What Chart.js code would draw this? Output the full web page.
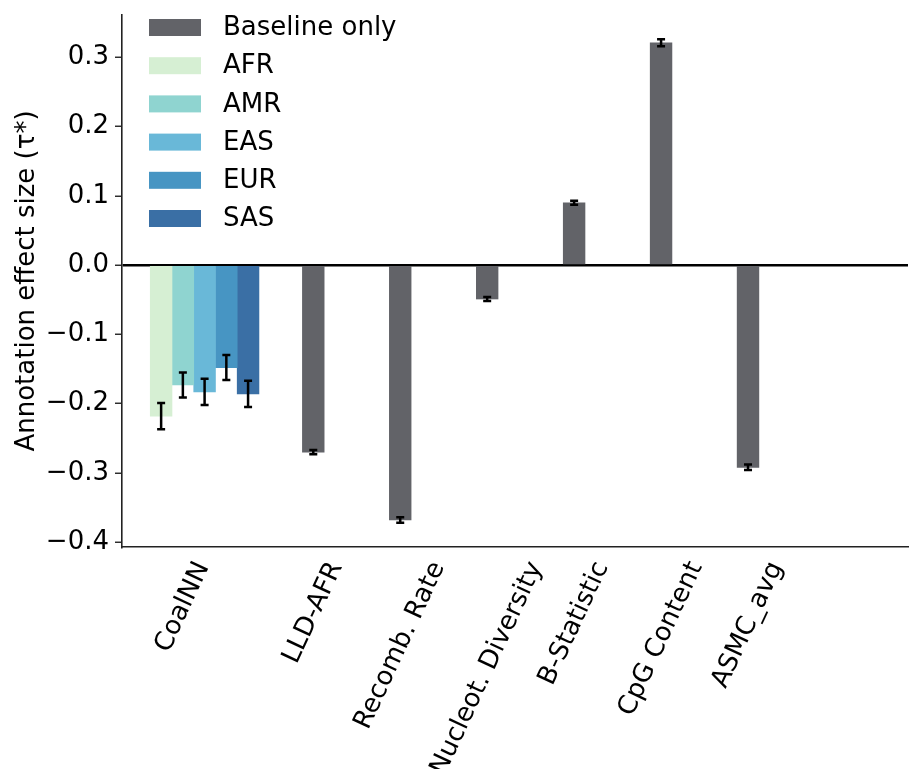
<!DOCTYPE html>
<html>
<head>
<meta charset="utf-8">
<script src="https://cdn.jsdelivr.net/npm/chart.js@4.4.1/dist/chart.umd.min.js"></script>
<style>
  html, body { margin: 0; padding: 0; background: #fff; }
  #wrap { width: 909px; height: 769px; }
</style>
</head>
<body>
<div id="wrap"><canvas id="chart" width="909" height="769"></canvas></div>
<script>
// annotation names and where they sit on the x axis (axis units)
const categories = ['CoalNN', 'LLD-AFR', 'Recomb. Rate', 'Nucleot. Diversity', 'B-Statistic', 'CpG Content', 'ASMC_avg'];
const categoryPositions = [0.5, 2, 3, 4, 5, 6, 7];

// CoalNN per ancestry
const ancestries = ['AFR', 'AMR', 'EAS', 'EUR', 'SAS'];
const ancestryPositions = [0.25, 0.5, 0.75, 1.0, 1.25];
const coalnnTau = [-0.218, -0.173, -0.183, -0.148, -0.186];
const coalnnErr = [0.019, 0.018, 0.019, 0.018, 0.019];

// baseline-only annotations
const baselinePositions = [2, 3, 4, 5, 6, 7];
const baselineTau = [-0.270, -0.368, -0.049, 0.090, 0.321, -0.292];
const baselineErr = [0.003, 0.004, 0.003, 0.003, 0.005, 0.004];

const yTicks = [-0.4, -0.3, -0.2, -0.1, 0.0, 0.1, 0.2, 0.3];

const BASE_COLOR = '#626368';
const ANCESTRY_COLORS = ['#d6efd3', '#8fd4d0', '#69b8d8', '#4795c3', '#3a6fa5'];
const FONT_SIZE = 26;
const LABEL_ANGLE = 65;

Chart.defaults.font.family = 'DejaVu Sans';
Chart.defaults.font.size = FONT_SIZE;
Chart.defaults.color = '#000';

const datasets = [{
  label: 'Baseline only',
  data: baselinePositions.map((x, i) => ({x: x, y: baselineTau[i]})),
  errors: baselineErr,
  backgroundColor: BASE_COLOR,
}];
ancestries.forEach((name, i) => {
  datasets.push({
    label: name,
    data: [{x: ancestryPositions[i], y: coalnnTau[i]}],
    errors: [coalnnErr[i]],
    backgroundColor: ANCESTRY_COLORS[i],
  });
});

const errorBars = {
  id: 'errorBars',
  afterDatasetsDraw(chart) {
    const ctx = chart.ctx;
    const yScale = chart.scales.y;
    ctx.save();
    ctx.strokeStyle = '#000';
    ctx.lineWidth = 2.5;
    chart.data.datasets.forEach((ds, di) => {
      const meta = chart.getDatasetMeta(di);
      meta.data.forEach((bar, i) => {
        const v = ds.data[i].y;
        const e = ds.errors[i];
        const y1 = yScale.getPixelForValue(v - e);
        const y2 = yScale.getPixelForValue(v + e);
        const cap = 4;
        ctx.beginPath();
        ctx.moveTo(bar.x, y1);
        ctx.lineTo(bar.x, y2);
        ctx.moveTo(bar.x - cap, y1);
        ctx.lineTo(bar.x + cap, y1);
        ctx.moveTo(bar.x - cap, y2);
        ctx.lineTo(bar.x + cap, y2);
        ctx.stroke();
      });
    });
    ctx.restore();
  }
};

// rotated x labels, centred on the tick like matplotlib's ha='center'
const centredLabels = {
  id: 'centredLabels',
  afterDraw(chart) {
    const ctx = chart.ctx;
    const xScale = chart.scales.x;
    const a = LABEL_ANGLE * Math.PI / 180;
    ctx.save();
    ctx.font = FONT_SIZE + 'px "DejaVu Sans"';
    ctx.fillStyle = '#000';
    ctx.textAlign = 'center';
    ctx.textBaseline = 'middle';
    xScale.ticks.forEach((t, i) => {
      const label = categories[i];
      const w = ctx.measureText(label).width;
      const h = FONT_SIZE;
      const boxH = w * Math.sin(a) + h * Math.cos(a);
      const cx = xScale.getPixelForValue(t.value);
      const cy = xScale.top + 11 + boxH / 2;
      ctx.save();
      ctx.translate(cx, cy);
      ctx.rotate(-a);
      ctx.fillText(label, 0, 0);
      ctx.restore();
    });
    ctx.restore();
  }
};

const boxLegend = {
  id: 'boxLegend',
  afterDraw(chart) {
    const ctx = chart.ctx;
    const area = chart.chartArea;
    const x0 = area.left + 27;
    const y0 = area.top + 12.5;
    ctx.save();
    ctx.font = FONT_SIZE + 'px "DejaVu Sans"';
    ctx.textBaseline = 'middle';
    chart.data.datasets.forEach((ds, i) => {
      const y = y0 + i * 38.2;
      ctx.fillStyle = ds.backgroundColor;
      ctx.fillRect(x0, y - 8.5, 52, 17);
      ctx.fillStyle = '#000';
      ctx.fillText(ds.label, x0 + 74, y + 1);
    });
    ctx.restore();
  }
};

new Chart(document.getElementById('chart'), {
  type: 'bar',
  data: {datasets: datasets},
  plugins: [errorBars, centredLabels, boxLegend],
  options: {
    responsive: false,
    animation: false,
    layout: {padding: {top: 15, right: 1, left: 0, bottom: 0}},
    datasets: {
      bar: {
        grouped: false,
        barPercentage: 1,
        categoryPercentage: 1,
      }
    },
    scales: {
      x: {
        type: 'linear',
        min: -0.2,
        max: 8.84,
        offset: false,
        afterBuildTicks: (scale) => {
          scale.ticks = categoryPositions.map((v) => ({value: v}));
        },
        afterFit: (scale) => {
          scale.height = 222;
          scale.paddingLeft = 0;
          scale.paddingRight = 0;
        },
        ticks: {display: false},
        grid: {display: false, drawTicks: false},
        border: {display: true, color: '#222', width: 1.6},
      },
      y: {
        min: -0.407,
        max: 0.361,
        afterBuildTicks: (scale) => {
          scale.ticks = yTicks.map((v) => ({value: v}));
        },
        afterFit: (scale) => {
          scale.width = 122;
          scale.paddingTop = 0;
          scale.paddingBottom = 0;
        },
        ticks: {
          padding: 6,
          callback: (value) => (value < 0 ? '\u2212' : '') + Math.abs(value).toFixed(1),
        },
        grid: {
          drawOnChartArea: true,
          tickLength: 7,
          tickWidth: 1.4,
          tickColor: '#222',
          lineWidth: 2.5,
          color: (c) => (c.tick && Math.abs(c.tick.value) < 1e-9) ? '#000' : 'rgba(0,0,0,0)',
        },
        border: {display: true, color: '#222', width: 1.6},
        title: {
          display: true,
          text: 'Annotation effect size (\u03c4*)',
          font: {size: FONT_SIZE},
          padding: {top: 12, bottom: 0},
        },
      }
    },
    plugins: {
      legend: {display: false},
      tooltip: {enabled: false},
    }
  }
});
</script>
</body>
</html>
